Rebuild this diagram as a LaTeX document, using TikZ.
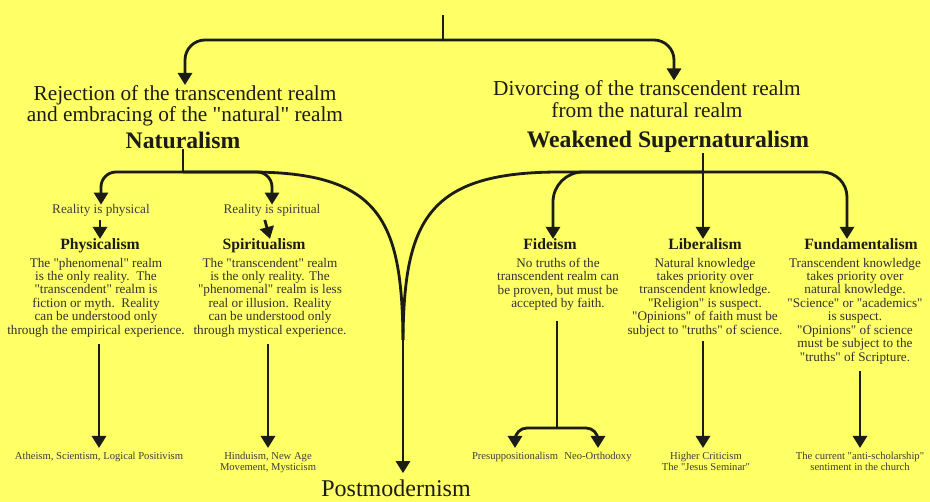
\documentclass[tikz,border=0pt]{standalone}
\usepackage{fontspec}
\setmainfont{Liberation Serif}[Ligatures=TeXOff]
\usepackage{xcolor}
\usepackage{tikz}
\usetikzlibrary{arrows.meta, positioning}
\definecolor{bgyellow}{RGB}{255,255,102}
\definecolor{inkc}{RGB}{28,28,22}

\begin{document}
\begin{tikzpicture}[x=1pt, y=-1pt]
\tikzstyle{big} = [inner sep=0, align=center, text=inkc, font=\fontsize{21.3}{21.4}\selectfont]
\tikzstyle{title} = [inner sep=0, text=inkc, font=\fontsize{23.7}{26}\selectfont\bfseries]
\tikzstyle{sub} = [inner sep=0, text=inkc!85, font=\fontsize{13.2}{15}\selectfont]
\tikzstyle{head} = [inner sep=0, anchor=base, text=inkc, font=\fontsize{15.7}{17}\selectfont\bfseries]
\tikzstyle{desc} = [inner sep=0, anchor=north, align=center, text=inkc!90, font=\fontsize{13.2}{13.45}\selectfont]
\tikzstyle{leaf} = [inner sep=0, anchor=north, align=center, text=inkc!85, font=\fontsize{10.6}{11}\selectfont]
\tikzstyle{link} = [line width=2.8pt, draw=inkc]
\tikzstyle{arr} = [link, -{Triangle[length=12pt,width=14pt]}]

\fill[bgyellow] (0,0) rectangle (930,502);

\node (rej) [big, anchor=north] at (185,85) {Rejection of the transcendent realm\\and embracing of the "natural" realm};
\node (div) [big, anchor=north] at (647,80.5) {Divorcing of the transcendent realm\\from the natural realm};
\node (nat) [title, anchor=base] at (183,149) {Naturalism};
\node (weak) [title, anchor=base] at (668,148) {Weakened Supernaturalism};

\node (physreal) [sub, anchor=base] at (101,214) {Reality is physical};
\node (spirreal) [sub, anchor=base] at (272,214) {Reality is spiritual};

\node (physicalism) [head] at (100,250) {Physicalism};
\node (spiritualism) [head] at (264,250) {Spiritualism};
\node (fideism) [head] at (550,250) {Fideism};
\node (liberalism) [head] at (705,250) {Liberalism};
\node (fundamentalism) [head] at (861,250) {Fundamentalism};

\node (physdesc) [desc, below=7.7pt of physicalism.base, xshift=-4pt] {The "phenomenal" realm\\is the only reality.\ \ The\\"transcendent" realm is\\fiction or myth.\ \ Reality\\can be understood only\\through the empirical experience.};
\node (spirdesc) [desc, below=7.7pt of spiritualism.base, xshift=6pt] {The "transcendent" realm\\is the only reality. The\\"phenomenal" realm is less\\real or illusion. Reality\\can be understood only\\through mystical experience.};
\node (fiddesc) [desc, below=7.7pt of fideism.base, xshift=8pt] {No truths of the\\transcendent realm can\\be proven, but must be\\accepted by faith.};
\node (libdesc) [desc, below=7.7pt of liberalism.base] {Natural knowledge\\takes priority over\\transcendent knowledge.\\"Religion" is suspect.\\"Opinions" of faith must be\\subject to "truths" of science.};
\node (funddesc) [desc, below=7.7pt of fundamentalism.base, xshift=-6pt] {Transcendent knowledge\\takes priority over\\natural knowledge.\\"Science" or "academics"\\is suspect.\\"Opinions" of science\\must be subject to the\\"truths" of Scripture.};

\node (atheism) [leaf] at (99,452) {Atheism, Scientism, Logical Positivism};
\node (hindu) [leaf] at (268,452) {Hinduism, New Age\\Movement, Mysticism};
\node (presup) [leaf] at (515,452) {Presuppositionalism};
\node (neo) [leaf] at (598,452) {Neo-Orthodoxy};
\node (higher) [leaf] at (706,452) {Higher Criticism\\The "Jesus Seminar"};
\node (current) [leaf] at (860,452) {The current "anti-scholarship"\\sentiment in the church};
\node (post) [big, anchor=base, font=\fontsize{24}{26}\selectfont] at (396,497) {Postmodernism};

\coordinate (top) at (443,15);
\coordinate (fork) at (443,40);
\coordinate (nfork) at (183,172);
\coordinate (wfork) at (703,172);
\coordinate (pmerge) at (403,340);
\coordinate (fsplit) at (557,428);

\draw [link] (top) -- (fork);
\draw [arr, rounded corners=20pt] (fork) -| (rej.north);
\draw [arr, rounded corners=20pt] (fork) -| ([xshift=27pt]div.north);

\draw [link] (nat.south) -- (nfork);
\draw [arr, rounded corners=15pt] (nfork) -| (physreal.north);
\draw [arr, rounded corners=15pt] (nfork) -| (spirreal.north);
\draw [arr, shorten <=3pt] (physreal.south -| physicalism) -- (physicalism.north);
\draw [arr, shorten <=3pt] (spirreal.south -| spiritualism) -- ([xshift=6pt]spiritualism.north);

\draw [link] (nfork) -- (250,172) .. controls (380,172) and (402,220) .. (pmerge);
\draw [link] (wfork) -- (560,172) .. controls (428,172) and (404,220) .. (pmerge);
\draw [arr, shorten >=7pt] (pmerge) -- (pmerge |- post.north);

\draw [arr] (weak.south -| wfork) -- (wfork |- liberalism.north);
\draw [arr, rounded corners=30pt] (wfork) -| ([xshift=3pt]fideism.north);
\draw [arr, rounded corners=25pt] (wfork) -| ([xshift=-14pt]fundamentalism.north);

\draw [arr, shorten <=7pt, shorten >=4pt] (physdesc.south -| atheism) -- (atheism.north);
\draw [arr, shorten <=7pt, shorten >=4pt] (spirdesc.south -| hindu) -- (hindu.north);
\draw [link, shorten <=10pt] (fiddesc.south -| fsplit) -- (fsplit);
\draw [arr, rounded corners=12pt, shorten >=4pt] (fsplit) -| (presup.north);
\draw [arr, rounded corners=12pt, shorten >=4pt] (fsplit) -| (neo.north);
\draw [arr, shorten <=4pt, shorten >=4pt] (libdesc.south -| wfork) -- (wfork |- higher.north);
\draw [arr, shorten <=7pt, shorten >=4pt] (funddesc.south -| current) -- (current.north);
\end{tikzpicture}
\end{document}
